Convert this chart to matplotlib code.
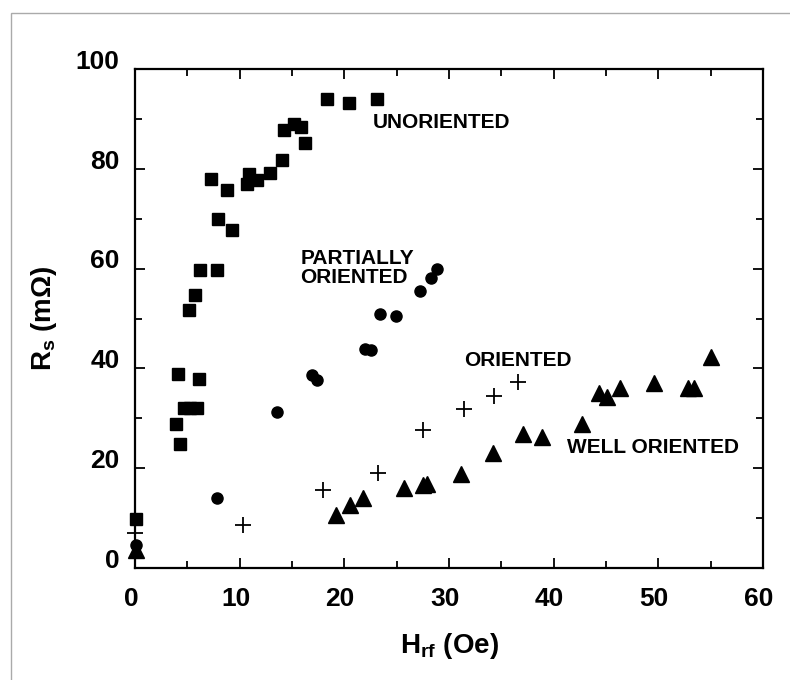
import matplotlib
matplotlib.use("Agg")
import matplotlib.pyplot as plt
from matplotlib.ticker import MultipleLocator
from matplotlib.transforms import ScaledTranslation
from matplotlib.patches import Rectangle

plt.rcParams["font.family"] = ["Liberation Sans", "DejaVu Sans"]
plt.rcParams["font.weight"] = "bold"
plt.rcParams["mathtext.fontset"] = "custom"
plt.rcParams["mathtext.rm"] = "Liberation Sans:bold"
plt.rcParams["mathtext.bf"] = "Liberation Sans:bold"

# Rs vs Hrf for the four grain-orientation samples
unoriented_h = [0.1, 3.9, 4.1, 4.3, 4.7, 5.3, 5.9, 6.1, 5.2, 5.7, 6.2, 7.8, 7.3, 8.8,
                7.9, 9.3, 10.7, 10.9, 11.7, 12.9, 14.0, 14.2, 15.2, 15.9, 16.2,
                18.3, 20.4, 23.1]
unoriented_rs = [9.8, 28.9, 38.8, 24.9, 32.0, 32.0, 32.0, 37.9, 51.8, 54.8, 59.8, 59.8,
                 77.9, 75.8, 69.9, 67.7, 76.9, 78.9, 77.7, 79.1, 81.7, 87.8, 88.9,
                 88.4, 85.1, 93.9, 93.1, 93.9]

partial_h = [0.1, 7.8, 13.6, 16.9, 17.4, 22.0, 22.5, 23.4, 24.9, 27.2, 28.3, 28.9]
partial_rs = [4.6, 14.0, 31.2, 38.6, 37.6, 43.9, 43.6, 50.9, 50.6, 55.6, 58.2, 60.0]

oriented_h = [0.0, 10.3, 18.0, 23.2, 27.5, 31.4, 34.3, 36.6]
oriented_rs = [7.0, 8.6, 15.6, 19.0, 27.7, 31.8, 34.4, 37.2]

well_h = [0.1, 19.2, 20.5, 21.8, 25.7, 27.5, 27.9, 31.1, 34.2, 37.1, 38.9, 42.7,
          44.3, 45.1, 46.3, 49.6, 52.8, 53.4, 55.0]
well_rs = [3.6, 10.6, 12.6, 14.0, 16.0, 16.6, 16.8, 18.8, 23.0, 26.8, 26.2, 28.8,
           35.0, 34.3, 36.0, 37.0, 36.0, 36.0, 42.2]

fig = plt.figure(figsize=(7.9, 6.8), dpi=100)
ax = fig.add_axes([0.1709, 0.1647, 0.7949, 0.7338])

ax.plot(unoriented_h, unoriented_rs, "s", color="black", markersize=8.5, clip_on=False)
ax.plot(partial_h, partial_rs, "o", color="black", markersize=8, clip_on=False)
ax.plot(oriented_h, oriented_rs, "+", color="black", markersize=11,
        markeredgewidth=1.3, clip_on=False)
ax.plot(well_h, well_rs, "^", color="black", markersize=11, clip_on=False)

lab = dict(fontsize=15, fontweight="bold", va="center", ha="left")
ax.text(22.7, 89.2, "UNORIENTED", **lab)
ax.text(15.8, 60.2, "PARTIALLY\nORIENTED", linespacing=1.0, **lab)
ax.text(31.4, 41.6, "ORIENTED", **lab)
ax.text(41.3, 24.2, "WELL ORIENTED", **lab)

ax.set_xlim(0, 60)
ax.set_ylim(0, 100)
ax.xaxis.set_major_locator(MultipleLocator(10))
ax.xaxis.set_minor_locator(MultipleLocator(5))
ax.yaxis.set_major_locator(MultipleLocator(20))
ax.yaxis.set_minor_locator(MultipleLocator(10))
ax.tick_params(which="both", direction="in", top=True, right=True, width=1.3)
ax.tick_params(which="major", length=7, labelsize=19)
ax.tick_params(which="minor", length=5)
ax.tick_params(axis="x", which="major", pad=14)
ax.tick_params(axis="y", which="major", pad=11)
for s in ax.spines.values():
    s.set_linewidth(1.6)

# scanned labels sit a bit high / left of their ticks
for t in ax.get_yticklabels():
    t.set_transform(t.get_transform() + ScaledTranslation(0, 7 / 72, fig.dpi_scale_trans))
for t in ax.get_xticklabels():
    t.set_transform(t.get_transform() + ScaledTranslation(-3 / 72, 0, fig.dpi_scale_trans))

ax.set_xlabel(r"H$_{\mathrm{rf}}$ (Oe)", fontsize=20, fontweight="bold", labelpad=14)
ax.set_ylabel(r"R$_{\mathrm{s}}$ (mΩ)", fontsize=20, fontweight="bold", labelpad=12)

# thin frame around the page
fig.patches.append(Rectangle((11 / 790, -0.05), 1.1, (680 - 13) / 680 + 0.05,
                             transform=fig.transFigure, fill=False,
                             edgecolor="#aaaaaa", linewidth=1.0))

fig.savefig("out.png", dpi=100)
